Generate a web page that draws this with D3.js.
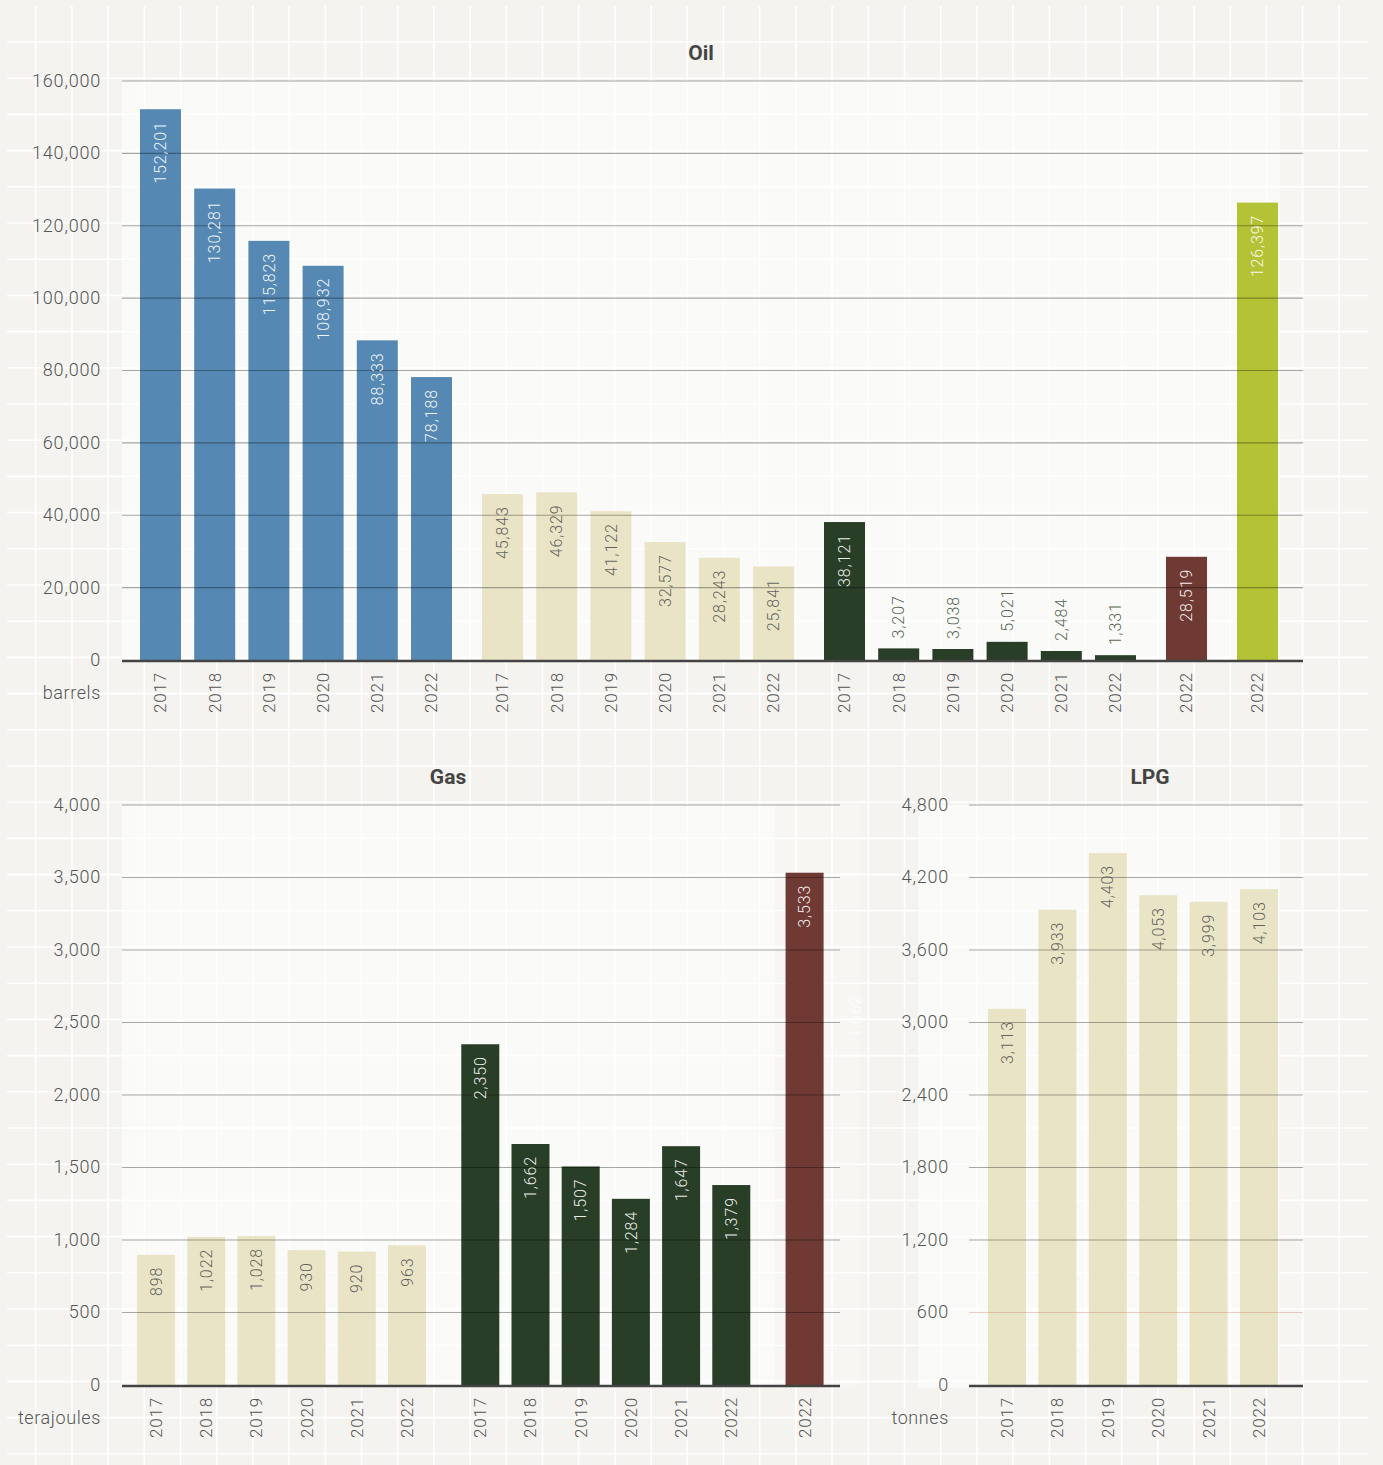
<!DOCTYPE html>
<html><head><meta charset="utf-8">
<script src="https://cdn.jsdelivr.net/npm/d3@7"></script>
<style>
body{margin:0;background:#f4f3ef;}
svg{display:block;}
text{font-family:Roboto,"DejaVu Sans",sans-serif;}
</style></head>
<body>
<svg id="c" width="1383" height="1465"></svg>
<script>
// ---------- data ----------
const years = ["2017","2018","2019","2020","2021","2022"];
const year2022 = ["2022"];

const oilBlue  = [152201,130281,115823,108932,88333,78188];
const oilBeige = [45843,46329,41122,32577,28243,25841];
const oilDark  = [38121,3207,3038,5021,2484,1331];
const oilBrown = [28519];
const oilLime  = [126397];
const oilTicks = [0,20000,40000,60000,80000,100000,120000,140000,160000];

const gasBeige = [898,1022,1028,930,920,963];
const gasDark  = [2350,1662,1507,1284,1647,1379];
const gasBrown = [3533];
const gasTicks = [0,500,1000,1500,2000,2500,3000,3500,4000];

const lpgBeige = [3113,3933,4403,4053,3999,4103];
const lpgTicks = [0,600,1200,1800,2400,3000,3600,4200,4800];

const titles = ["Oil","Gas","LPG"];
const units = ["barrels","terajoules","tonnes"];

// ---------- styles ----------
const C = {blue:"#5589b3", beige:"#eae4c6", dark:"#293e27", brown:"#6e3a33", lime:"#b4c236"};
const fmt = d3.format(",");
const svg = d3.select("#c");

// background grid
const bg = svg.append("g");
bg.append("rect").attr("width",1383).attr("height",1465).attr("fill","#f4f3ef");
const gx = d3.range(0,37).map(k=>35.7+k*36.2).filter(v=>v<1360);
const gy = d3.range(1,41).map(k=>5.8+k*36.2).filter(v=>v<1460);
bg.selectAll("line.v").data(gx).join("line").attr("x1",d=>d).attr("x2",d=>d).attr("y1",6).attr("y2",1465)
  .attr("stroke","#fff").attr("stroke-width",1.6);
bg.selectAll("line.h").data(gy).join("line").attr("y1",d=>d).attr("y2",d=>d).attr("x1",7).attr("x2",1368)
  .attr("stroke","#fff").attr("stroke-width",1.6);

function chart(cfg){
  const g = svg.append("g");
  cfg.panels.forEach(p=>{
    g.append("rect").attr("x",p[0]).attr("y",p[1]).attr("width",p[2]-p[0]).attr("height",p[3]-p[1])
      .attr("fill","#fff").attr("opacity",p[4]);
  });
  const y = d3.scaleLinear().domain([0,cfg.max]).range([cfg.y0,cfg.y1]);
  let bars = [], slot = 0;
  cfg.groups.forEach((gr)=>{
    gr.values.forEach((v,j)=>{
      bars.push({v, year: gr.years[j], color: gr.color, txt: gr.txt, slot: slot + j});
    });
    slot += gr.values.length + cfg.gap;
  });
  const lastSlot = d3.max(bars,d=>d.slot)+1;
  const x = d3.scaleLinear().domain([0,lastSlot]).range([cfg.x0, cfg.x0 + lastSlot*cfg.step]);
  const bw = cfg.bw, pad = (cfg.step-cfg.bw)/2;

  g.selectAll("rect.bar").data(bars).join("rect")
    .attr("x",d=>x(d.slot)+pad).attr("width",bw)
    .attr("y",d=>y(d.v)).attr("height",d=>cfg.y0-y(d.v)).attr("fill",d=>d.color);

  g.selectAll("line.grid").data(cfg.ticks.filter(t=>t>0)).join("line")
    .attr("x1",cfg.gridX[0]).attr("x2",cfg.gridX[1]).attr("y1",d=>y(d)).attr("y2",d=>y(d))
    .attr("stroke",d=> d===cfg.redTick ? "#c8775f" : "#000")
    .attr("stroke-opacity",d=> d===cfg.max ? 0.17 : (d===cfg.redTick?0.35:0.33))
    .attr("stroke-width",d=> d===cfg.max ? 2 : 1.2);
  g.append("line").attr("x1",cfg.gridX[0]).attr("x2",cfg.gridX[1]).attr("y1",cfg.y0+1).attr("y2",cfg.y0+1)
    .attr("stroke","#444").attr("stroke-width",2.6);

  const ax = g.append("g").attr("transform",`translate(${cfg.labelX},0)`)
    .call(d3.axisLeft(y).tickValues(cfg.ticks).tickFormat(fmt).tickSize(0).tickPadding(0));
  ax.select(".domain").remove();
  ax.selectAll("text").attr("font-size",18).attr("fill","#555").attr("font-family","Roboto")
    .attr("font-weight",300).attr("letter-spacing","0.8px").attr("dy","0.3em").attr("x",0);

  g.append("text").attr("x",cfg.labelX).attr("y",cfg.y0+33).attr("dy","0.35em").attr("text-anchor","end")
    .attr("font-size",18).attr("font-weight",300).attr("letter-spacing","0.6px").attr("fill","#555").text(cfg.unit);
  g.append("text").attr("x",cfg.titleX).attr("y",cfg.titleY).attr("dy","0.35em").attr("text-anchor","middle")
    .attr("font-size",21).attr("font-weight","bold").attr("fill","#444").text(cfg.title);

  g.selectAll("text.yr").data(bars).join("text")
    .attr("transform",d=>`translate(${x(d.slot)+pad+bw/2},${cfg.y0+12}) rotate(-90)`)
    .attr("text-anchor","end").attr("dy","0.35em").attr("font-size",17).attr("font-weight",300)
    .attr("letter-spacing","0.8px").attr("fill","#555")
    .text(d=>d.year);

  g.selectAll("text.val").data(bars).join("text")
    .each(function(d){
      const h = cfg.y0 - y(d.v);
      const inside = h > 75;
      const cx = x(d.slot)+pad+bw/2;
      const s = d3.select(this);
      if(inside){
        s.attr("transform",`translate(${cx},${y(d.v)+12}) rotate(-90)`).attr("text-anchor","end")
         .attr("fill",d.txt).attr("fill-opacity",0.92);
      } else {
        s.attr("transform",`translate(${cx},${y(d.v)-10}) rotate(-90)`).attr("text-anchor","start")
         .attr("fill",d.color).attr("fill-opacity",0.8);
      }
    })
    .attr("dy","0.35em").attr("font-size",16).attr("font-weight",300).attr("letter-spacing","0.9px")
    .text(d=>fmt(d.v));
  return {x,y,pad,bw};
}

chart({
  title:titles[0], unit:units[0], max:160000, ticks:oilTicks, y0:660, y1:81,
  x0:133.4, step:54.2, bw:41, gap:0.31, gridX:[122,1303], labelX:101, titleX:701, titleY:53,
  panels:[[122,81,1280,660,0.55],[1280,81,1303,660,0.2]],
  groups:[
    {values:oilBlue, years, color:C.blue, txt:"#fff"},
    {values:oilBeige, years, color:C.beige, txt:"#555"},
    {values:oilDark, years, color:C.dark, txt:"#fff"},
    {values:oilBrown, years:year2022, color:C.brown, txt:"#fff"},
    {values:oilLime, years:year2022, color:C.lime, txt:"#fff"}
  ]
});

chart({
  title:titles[1], unit:units[1], max:4000, ticks:gasTicks, y0:1385, y1:805,
  x0:130.9, step:50.2, bw:38, gap:0.46, gridX:[122,840], labelX:101, titleX:448, titleY:777,
  panels:[[122,805,775,1385,0.55],[775,805,860,1385,0.25]],
  groups:[
    {values:gasBeige, years, color:C.beige, txt:"#555"},
    {values:gasDark, years, color:C.dark, txt:"#fff"},
    {values:gasBrown, years:year2022, color:C.brown, txt:"#fff"}
  ]
});
// faint stray label in the gas panel
svg.append("text").attr("transform","translate(855,995) rotate(-90)").attr("text-anchor","end").attr("dy","0.35em")
  .attr("font-size",16).attr("font-weight",300).attr("letter-spacing","0.9px").attr("fill","#fff").attr("fill-opacity",0.9).text(fmt(gasDark[1]));

chart({
  title:titles[2], unit:units[2], max:4800, ticks:lpgTicks, y0:1385, y1:805, redTick:600,
  x0:981.8, step:50.4, bw:38, gap:0, gridX:[969,1303], labelX:949, titleX:1150, titleY:777,
  panels:[[918,805,1280,1388,0.55],[1280,805,1303,1388,0.2]],
  groups:[
    {values:lpgBeige, years, color:C.beige, txt:"#555"}
  ]
});
</script>
</body></html>
